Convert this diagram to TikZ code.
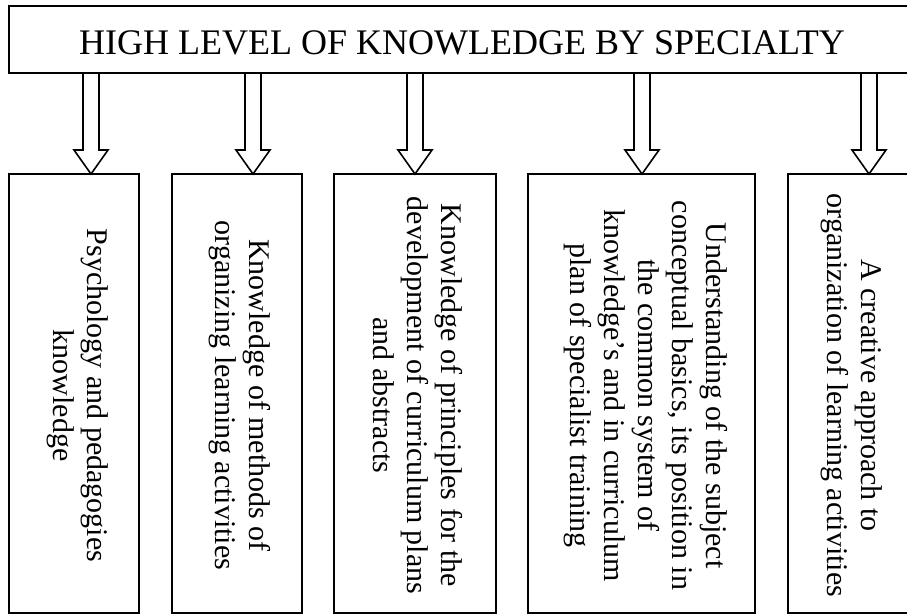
\documentclass[tikz,border=0pt]{standalone}
\usepackage{fontspec}
\setmainfont{Liberation Serif}
\usetikzlibrary{calc}
\begin{document}
\begin{tikzpicture}[x=1pt,y=-1pt,
  box/.style={draw, line width=1.8pt, inner sep=0pt, outer sep=0pt, anchor=north west, minimum height=439pt},
  vtext/.style={rotate=-90, align=center, font=\fontsize{30}{34}\selectfont, inner sep=0pt},
  blockarrow/.style={draw, line width=1.6pt, line join=miter, to path={let \p1=(\tikztostart), \p2=(\tikztotarget) in (\x1-8pt,\y1) -- (\x1-8pt,\y2+24pt) -- (\x1-17pt,\y2+24pt) -- (\x1,\y2) -- (\x1+17pt,\y2+24pt) -- (\x1+8pt,\y2+24pt) -- (\x1+8pt,\y1)}}
]
\useasboundingbox (0,0) rectangle (907,615);
\fill[white] (0,0) rectangle (907,615);
\node[draw, line width=1.8pt, inner sep=0pt, outer sep=0pt, anchor=north west, minimum width=903pt, minimum height=67pt] (top) at (9,6) {};
\node[font=\fontsize{36}{40}\selectfont, anchor=base, inner sep=0pt] (title) at (462,55) {HIGH LEVEL OF KNOWLEDGE BY SPECIALTY};

\node[box, minimum width=130pt] (b1) at (9,174) {};
\node[box, minimum width=130pt] (b2) at (172,174) {};
\node[box, minimum width=162pt] (b3) at (334,174) {};
\node[box, minimum width=227pt] (b4) at (528,174) {};
\node[box, minimum width=122pt] (b5) at (788,174) {};

\node[vtext] (t1) at ($(b1.center)+(4,2)$) {Psychology and pedagogies\\knowledge};
\node[vtext] (t2) at ($(b2.center)+(3,2)$) {Knowledge of methods of\\organizing learning activities};
\node[vtext] (t3) at ($(b3.center)+(3,2)$) {Knowledge of principles for the\\development of curriculum plans\\and abstracts};
\node[vtext] (t4) at ($(b4.center)+(4,2)$) {Understanding of the subject\\conceptual basics, its position in\\the common system of\\knowledge’s and in curriculum\\plan of specialist training};
\node[vtext] (t5) at ($(b5.center)+(3,2)$) {A creative approach to\\organization of learning activities};

\foreach \i/\x in {1/91,2/253,3/415,4/642,5/869} {
  \coordinate (s\i) at (\x,0);
  \draw[blockarrow] (top.south -| s\i) to (b\i.north -| s\i);
}
\end{tikzpicture}
\end{document}
